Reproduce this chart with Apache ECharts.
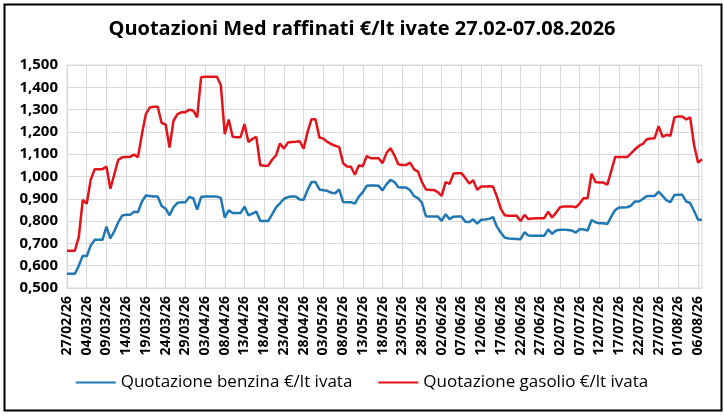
<!DOCTYPE html>
<html>
<head>
<meta charset="utf-8">
<script src="https://cdn.jsdelivr.net/npm/echarts@6/dist/echarts.min.js"></script>
<style>
html, body { margin: 0; padding: 0; background: #fff; }
#main { width: 724px; height: 417px; }
</style>
</head>
<body>
<div id="main"></div>
<script>
// date giornaliere dal 27/02/26
var startDate = new Date(2026, 1, 27);
var numDays = 162;
var dates = [];
for (var i = 0; i < numDays; i++) {
	var d = new Date(startDate.getFullYear(), startDate.getMonth(), startDate.getDate() + i);
	var dd = ('0' + d.getDate()).slice(-2);
	var mm = ('0' + (d.getMonth() + 1)).slice(-2);
	dates.push(dd + '/' + mm + '/26');
}

var seriesNames = ['Quotazione benzina €/lt ivata', 'Quotazione gasolio €/lt ivata'];

var benzina = [
	0.564, 0.564, 0.564, 0.600, 0.645, 0.642, 0.690, 0.716, 0.716, 0.716,
	0.775, 0.722, 0.755, 0.795, 0.825, 0.828, 0.828, 0.842, 0.840, 0.888,
	0.915, 0.913, 0.910, 0.910, 0.868, 0.856, 0.826, 0.862, 0.882, 0.884,
	0.884, 0.908, 0.903, 0.852, 0.908, 0.910, 0.910, 0.910, 0.910, 0.904,
	0.815, 0.848, 0.836, 0.836, 0.836, 0.865, 0.826, 0.834, 0.843, 0.800,
	0.800, 0.800, 0.830, 0.862, 0.880, 0.900, 0.908, 0.910, 0.910, 0.897,
	0.896, 0.940, 0.975, 0.975, 0.942, 0.938, 0.936, 0.927, 0.925, 0.942,
	0.886, 0.885, 0.885, 0.878, 0.910, 0.930, 0.958, 0.960, 0.960, 0.958,
	0.938, 0.965, 0.985, 0.976, 0.952, 0.951, 0.951, 0.938, 0.912, 0.903,
	0.882, 0.822, 0.821, 0.821, 0.821, 0.801, 0.831, 0.809, 0.820, 0.821,
	0.821, 0.797, 0.796, 0.808, 0.789, 0.806, 0.807, 0.810, 0.818, 0.775,
	0.748, 0.726, 0.722, 0.721, 0.720, 0.719, 0.750, 0.735, 0.734, 0.734,
	0.734, 0.734, 0.763, 0.743, 0.758, 0.761, 0.761, 0.760, 0.758, 0.748,
	0.764, 0.762, 0.758, 0.805, 0.795, 0.790, 0.790, 0.787, 0.820, 0.850,
	0.861, 0.861, 0.862, 0.869, 0.888, 0.888, 0.899, 0.912, 0.913, 0.913,
	0.932, 0.913, 0.893, 0.885, 0.917, 0.918, 0.918, 0.888, 0.881, 0.845,
	0.806, 0.806
];

var gasolio = [
	0.667, 0.667, 0.667, 0.730, 0.895, 0.878, 0.985, 1.032, 1.032, 1.033,
	1.045, 0.945, 1.010, 1.075, 1.086, 1.087, 1.088, 1.098, 1.087, 1.190,
	1.280, 1.310, 1.313, 1.313, 1.240, 1.234, 1.130, 1.250, 1.280, 1.288,
	1.288, 1.300, 1.295, 1.265, 1.445, 1.447, 1.447, 1.447, 1.447, 1.410,
	1.190, 1.255, 1.178, 1.176, 1.176, 1.235, 1.155, 1.168, 1.178, 1.050,
	1.048, 1.048, 1.075, 1.095, 1.148, 1.125, 1.152, 1.155, 1.156, 1.158,
	1.125, 1.200, 1.257, 1.257, 1.175, 1.170, 1.155, 1.145, 1.138, 1.132,
	1.060, 1.045, 1.044, 1.008, 1.050, 1.046, 1.092, 1.082, 1.082, 1.082,
	1.060, 1.105, 1.127, 1.095, 1.055, 1.052, 1.052, 1.062, 1.032, 1.022,
	0.975, 0.942, 0.940, 0.940, 0.930, 0.913, 0.975, 0.967, 1.013, 1.015,
	1.015, 0.993, 0.968, 0.983, 0.940, 0.955, 0.955, 0.956, 0.955, 0.910,
	0.855, 0.826, 0.824, 0.824, 0.824, 0.800, 0.828, 0.809, 0.812, 0.813,
	0.813, 0.813, 0.842, 0.816, 0.838, 0.862, 0.866, 0.866, 0.866, 0.862,
	0.880, 0.903, 0.903, 1.012, 0.975, 0.973, 0.973, 0.964, 1.025, 1.088,
	1.088, 1.087, 1.087, 1.104, 1.122, 1.137, 1.146, 1.167, 1.170, 1.172,
	1.226, 1.178, 1.187, 1.183, 1.265, 1.269, 1.269, 1.256, 1.265, 1.140,
	1.063, 1.077
];

var myChart = echarts.init(document.getElementById('main'));
var option = {
	animation: false,
	backgroundColor: '#ffffff',
	title: {
		text: 'Quotazioni Med raffinati €/lt ivate 27.02-07.08.2026',
		left: 'center',
		top: 14,
		textStyle: {
			color: '#000000',
			fontFamily: 'Open Sans',
			fontWeight: 'bold',
			fontSize: 20
		}
	},
	color: ['#1f77b4', '#e3121b'],
	legend: {
		bottom: 21,
		left: 'center',
		itemGap: 26,
		itemWidth: 40,
		itemHeight: 2,
		icon: 'rect',
		textStyle: {
			color: '#000000',
			fontFamily: 'Open Sans',
			fontSize: 17
		},
		data: seriesNames
	},
	grid: {
		left: 67,
		right: 22,
		top: 65,
		bottom: 129,
		show: true,
		borderColor: '#d9d9d9',
		borderWidth: 1
	},
	xAxis: {
		type: 'category',
		data: dates,
		boundaryGap: false,
		axisLine: { lineStyle: { color: '#d9d9d9' } },
		axisTick: { show: false },
		axisLabel: {
			interval: 4,
			rotate: 90,
			color: '#000000',
			fontFamily: 'Open Sans',
			fontWeight: 'bold',
			fontSize: 14,
			margin: 8
		},
		splitLine: {
			show: true,
			interval: 4,
			lineStyle: { color: '#d9d9d9', width: 1 }
		}
	},
	yAxis: {
		type: 'value',
		min: 0.5,
		max: 1.5,
		interval: 0.1,
		axisLine: { show: false },
		axisTick: { show: false },
		axisLabel: {
			color: '#000000',
			fontFamily: 'Open Sans',
			fontWeight: 'bold',
			fontSize: 15,
			margin: 9,
			formatter: function (v) {
				return v.toFixed(3).replace('.', ',');
			}
		},
		splitLine: { lineStyle: { color: '#d9d9d9', width: 1 } }
	},
	series: [{
		name: seriesNames[0],
		type: 'line',
		data: benzina,
		showSymbol: false,
		symbol: 'none',
		lineStyle: { width: 2.5 }
	}, {
		name: seriesNames[1],
		type: 'line',
		data: gasolio,
		showSymbol: false,
		symbol: 'none',
		lineStyle: { width: 2.5 }
	}],
	graphic: [{
		type: 'rect',
		left: 2,
		top: 2,
		shape: { width: 717, height: 406 },
		style: { fill: null, stroke: '#000000', lineWidth: 2 },
		silent: true
	}]
};
myChart.setOption(option);
</script>
</body>
</html>
